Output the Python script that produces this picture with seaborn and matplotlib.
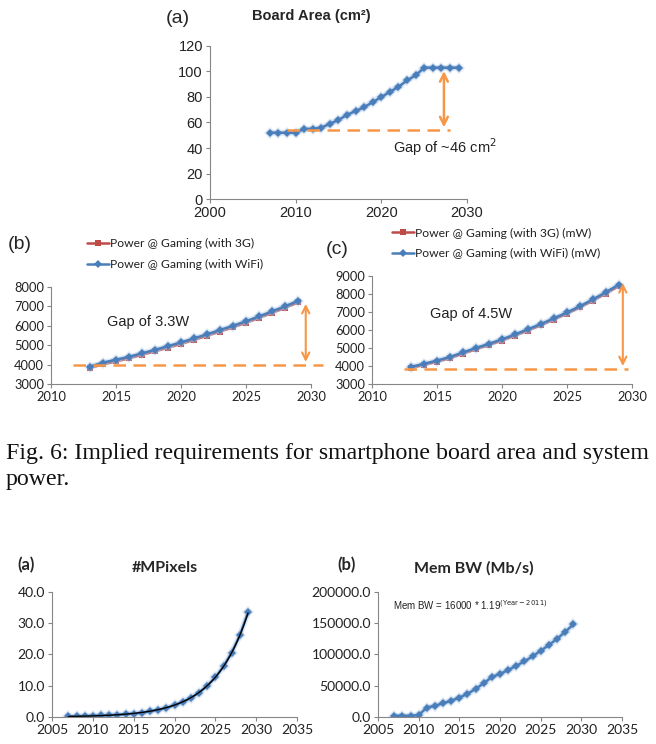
import numpy as np
import pandas as pd
import matplotlib
matplotlib.use("Agg")
import matplotlib.pyplot as plt
import seaborn as sns
from matplotlib.ticker import FormatStrFormatter

# ---- data ----
area_years = list(range(2007, 2030))
board_area = [52, 52, 52, 52, 55, 55, 56, 59, 62, 66, 69, 72, 76, 80, 84, 88, 93, 97, 103, 103, 103, 103, 103]

power_years = list(range(2013, 2030))
b_wifi = [3900, 4100, 4250, 4400, 4580, 4760, 4950, 5140, 5350, 5560, 5780, 6000, 6230, 6480, 6740, 7000, 7280]
b_3g = [3830, 4010, 4160, 4320, 4500, 4680, 4870, 5060, 5270, 5480, 5700, 5920, 6150, 6400, 6660, 6920, 7200]
c_wifi = [3950, 4120, 4300, 4500, 4750, 5000, 5230, 5480, 5750, 6040, 6330, 6650, 6970, 7320, 7700, 8100, 8520]
c_3g = [3880, 4060, 4230, 4430, 4680, 4930, 5160, 5410, 5680, 5970, 6260, 6580, 6900, 7250, 7630, 8020, 8440]

mpix = [0.2, 0.25, 0.3, 0.4, 0.5, 0.6, 0.7, 0.9, 1.1, 1.4, 1.8, 2.3, 2.9, 3.8, 4.8, 6.1, 7.8, 10.0,
        12.7, 16.2, 20.6, 26.2, 33.5]
mem_bw = [2000, 2000, 2000, 3000, 15000, 18000, 22000, 26000, 31000, 37000, 45000, 54000, 64000, 69000,
          75000, 82000, 89000, 97000, 106000, 115000, 125000, 136000, 148000]

BLUE = "#4a7ebb"
RED = "#be4b48"
ORANGE = "#f79646"
GRAY = "#868686"

sns.set_style("white")
plt.rcParams["font.family"] = ["Lato", "DejaVu Sans"]

fig = plt.figure(figsize=(6.56, 7.44), dpi=100)


def excel_axes(ax, fs):
    for s in ["top", "right"]:
        ax.spines[s].set_visible(False)
    for s in ["left", "bottom"]:
        ax.spines[s].set_color(GRAY)
        ax.spines[s].set_linewidth(0.8)
    ax.tick_params(axis="both", length=3, width=0.8, color=GRAY, labelsize=fs, pad=2,
                   direction="out", labelcolor="#222222")
    ax.tick_params(axis="both", which="both", left=True, bottom=True)
    ax.set_xlabel("")
    ax.set_ylabel("")


def blue_series(ax, x, y, label=None, ms=4):
    # soft glow under the series, like the Excel shadow
    sns.lineplot(x=x, y=y, ax=ax, color="#b5cbe8", lw=4, alpha=0.45, marker="D", ms=ms + 2.5,
                 markeredgewidth=0, legend=False)
    sns.lineplot(x=x, y=y, ax=ax, color=BLUE, lw=1.8, marker="D", ms=ms,
                 markeredgewidth=0, label=label)


# ---- top panel: board area ----
ax1 = fig.add_axes([0.320, 0.7325, 0.392, 0.2057])
blue_series(ax1, area_years, board_area)
ax1.set_xlim(2000, 2030)
ax1.set_ylim(0, 120)
ax1.set_xticks([2000, 2010, 2020, 2030])
ax1.set_yticks(range(0, 121, 20))
excel_axes(ax1, 10.5)
for t in ax1.get_xticklabels() + ax1.get_yticklabels():
    t.set_family("Liberation Sans")
ax1.plot([2009, 2028], [54, 54], ls=(0, (5, 3)), color=ORANGE, lw=1.8)
ax1.annotate("", xy=(2027.3, 102.5), xytext=(2027.3, 54),
             arrowprops=dict(arrowstyle="<->", color=ORANGE, lw=1.8, mutation_scale=14))
ax1.text(2021.4, 41, "Gap of ~46 cm$^2$", fontsize=10.5, family="Liberation Sans", color="#222222",
         va="center")
fig.text(0.252, 0.975, "(a)", fontsize=14, family="Liberation Sans", va="center", ha="left")
fig.text(0.474, 0.979, "Board Area (cm²)", fontsize=10.5, fontweight="bold", ha="center", va="center",
         family="Liberation Sans")


# ---- middle panels: power ----
def power_panel(rect, wifi, g3, ylim, suffix, gap_text, text_xy, dash, arrow, letter_xy, letter,
                leg_anchor):
    ax = fig.add_axes(rect)
    sns.lineplot(x=power_years, y=g3, ax=ax, color=RED, lw=1.8, marker="s", ms=5,
                 markeredgewidth=0, label="Power @ Gaming (with 3G)" + suffix)
    blue_series(ax, power_years, wifi, label="Power @ Gaming (with WiFi)" + suffix, ms=4)
    ax.set_xlim(2010, 2030)
    ax.set_ylim(*ylim)
    ax.set_xticks(range(2010, 2031, 5))
    ax.set_yticks(range(ylim[0], ylim[1] + 1, 1000))
    excel_axes(ax, 9.3)
    ax.plot(dash[0], dash[1], ls=(0, (5, 3)), color=ORANGE, lw=1.8, clip_on=False)
    ax.annotate("", xy=(arrow[0], arrow[2]), xytext=(arrow[0], arrow[1]),
                arrowprops=dict(arrowstyle="<->", color=ORANGE, lw=1.5, mutation_scale=13),
                annotation_clip=False)
    ax.text(text_xy[0], text_xy[1], gap_text, fontsize=10.5, family="Liberation Sans",
            color="#222222", va="center")
    fig.text(letter_xy[0], letter_xy[1], letter, fontsize=14, family="Liberation Sans", va="center")
    h, l = ax.get_legend_handles_labels()
    ax.legend(h, l, loc="upper left", bbox_to_anchor=leg_anchor, bbox_transform=fig.transFigure,
              frameon=False, fontsize=8.7, handlelength=1.8, handletextpad=0.1,
              labelspacing=0.8, borderaxespad=0, borderpad=0, labelcolor="#222222")
    return ax


power_panel([0.0777, 0.4839, 0.3963, 0.1304], b_wifi, b_3g, (3000, 8000), "", "Gap of 3.3W",
            (2014.3, 6200), ([2011.7, 2030.9], [3990, 3990]), (2029.6, 3990, 7270),
            (0.012, 0.671), "(b)", (0.133, 0.680))
power_panel([0.567, 0.4839, 0.3963, 0.1452], c_wifi, c_3g, (3000, 9000), " (mW)", "Gap of 4.5W",
            (2014.5, 6890), ([2012.5, 2029.7], [3840, 3840]), (2029.3, 3840, 8760),
            (0.497, 0.664), "(c)", (0.598, 0.694))

fig.text(0.009, 0.391, "Fig. 6: Implied requirements for smartphone board area and system",
         fontsize=17.2, family="Liberation Serif", va="center", color="#111111")
fig.text(0.009, 0.355, "power.", fontsize=17.2, family="Liberation Serif", va="center", color="#111111")

# ---- bottom panels ----
ax4 = fig.add_axes([0.0793, 0.0363, 0.3735, 0.168])
blue_series(ax4, area_years, mpix)
# exponential trend line fitted to the points
coef = np.polyfit(area_years, np.log(mpix), 1, w=np.sqrt(mpix))
trend_x = np.linspace(2007, 2029, 200)
ax4.plot(trend_x, np.exp(np.polyval(coef, trend_x)), color="black", lw=1)
ax4.set_xlim(2005, 2035)
ax4.set_ylim(0, 40)
ax4.set_xticks(range(2005, 2036, 5))
ax4.set_yticks(range(0, 41, 10))
ax4.yaxis.set_major_formatter(FormatStrFormatter("%.1f"))
excel_axes(ax4, 10)
fig.text(0.026, 0.240, "(a)", fontsize=12, fontweight="bold", va="center")
fig.text(0.251, 0.2366, "#MPixels", fontsize=11.5, fontweight="bold", va="center", ha="center")

ax5 = fig.add_axes([0.5762, 0.0363, 0.372, 0.168])
blue_series(ax5, area_years, mem_bw)
ax5.set_xlim(2005, 2035)
ax5.set_ylim(0, 200000)
ax5.set_xticks(range(2005, 2036, 5))
ax5.set_yticks(range(0, 200001, 50000))
ax5.yaxis.set_major_formatter(FormatStrFormatter("%.1f"))
excel_axes(ax5, 10)
ax5.text(2006.8, 179000, "Mem BW = 16000 * 1.19$^{\\mathrm{(Year - 2011)}}$", fontsize=7,
         family="Liberation Sans", va="center", color="#222222")
fig.text(0.515, 0.240, "(b)", fontsize=12, fontweight="bold", va="center")
fig.text(0.7226, 0.2366, "Mem BW (Mb/s)", fontsize=11.5, fontweight="bold", va="center", ha="center")

fig.savefig("out.png", dpi=100)
